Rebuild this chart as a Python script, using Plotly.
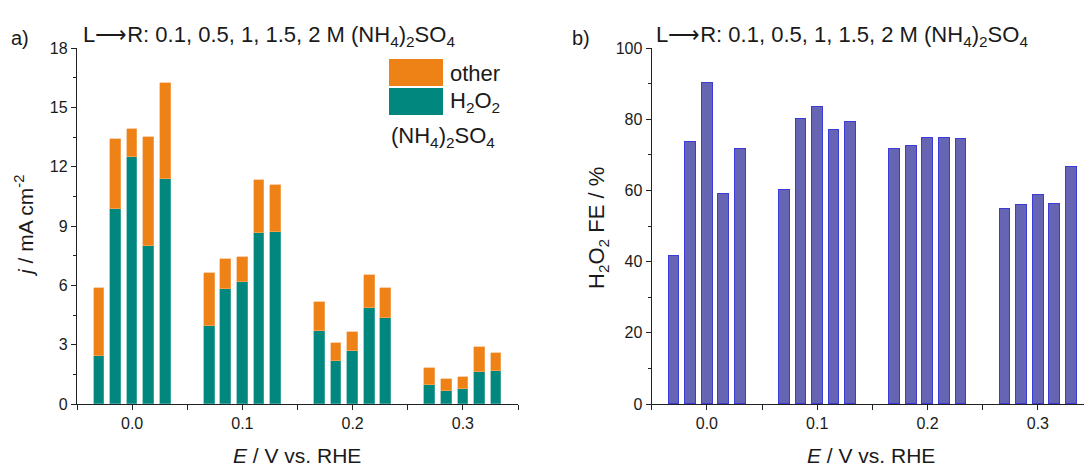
import plotly.graph_objects as go

# ---------------- data ----------------
potentials = [0.0, 0.1, 0.2, 0.3]          # E / V vs. RHE
concentrations = [0.1, 0.5, 1, 1.5, 2]     # M (NH4)2SO4, left -> right
# current density of H2O2 (teal) per potential group, per concentration
j_h2o2 = [
    [2.43, 9.84, 12.49, 7.97, 11.36],
    [3.96, 5.81, 6.15, 8.66, 8.71],
    [3.71, 2.19, 2.68, 4.85, 4.33],
    [0.98, 0.66, 0.76, 1.60, 1.67],
]
# total current density (top of stacked bar)
j_total = [
    [5.88, 13.40, 13.90, 13.50, 16.21],
    [6.62, 7.33, 7.41, 11.31, 11.07],
    [5.17, 3.07, 3.62, 6.54, 5.86],
    [1.84, 1.26, 1.38, 2.90, 2.58],
]
# H2O2 Faradaic efficiency / %
fe_h2o2 = [
    [41.7, 73.6, 90.2, 59.1, 71.5],
    [60.1, 80.1, 83.5, 77.0, 79.1],
    [71.7, 72.5, 74.8, 74.8, 74.5],
    [54.8, 56.0, 58.8, 56.1, 66.5],
]

# ---------------- style ----------------
ORANGE = "#EF8217"
TEAL = "#02877F"
PURPLE = "#6565B3"
PURPLE_EDGE = "#3B3BD8"
FONT = "Liberation Sans, Arial, sans-serif"
TXT = "#1a1a1a"
W, H = 1084, 468
SPACING = 0.015
BARW = 0.0097
BIG = 22

xs, h2o2_vals, other_vals, fe_vals = [], [], [], []
for gi, e in enumerate(potentials):
    for ci, c in enumerate(concentrations):
        xs.append(e + (ci - (len(concentrations) - 1) / 2) * SPACING)
        h2o2_vals.append(j_h2o2[gi][ci])
        other_vals.append(j_total[gi][ci] - j_h2o2[gi][ci])
        fe_vals.append(fe_h2o2[gi][ci])

fig = go.Figure()
fig.add_trace(go.Bar(x=xs, y=h2o2_vals, width=BARW, name="H<sub>2</sub>O<sub>2</sub>",
                     marker=dict(color=TEAL, line=dict(color="#5fb3ad", width=0.6)),
                     xaxis="x", yaxis="y", showlegend=False))
fig.add_trace(go.Bar(x=xs, y=other_vals, width=BARW, name="other",
                     marker=dict(color=ORANGE, line=dict(color="#f5b070", width=0.6)),
                     xaxis="x", yaxis="y", showlegend=False))
fig.add_trace(go.Bar(x=xs, y=fe_vals, width=BARW, name="FE",
                     marker=dict(color=PURPLE, line=dict(color=PURPLE_EDGE, width=1)),
                     xaxis="x2", yaxis="y2", showlegend=False))

def xax(domain, rng, anchor):
    return dict(domain=domain, range=rng, anchor=anchor, showgrid=False, zeroline=False,
                showline=True, linecolor="#222", linewidth=1.3,
                ticks="outside", ticklen=5, tickwidth=1.2, tickcolor="#222",
                tick0=0, dtick=0.1, tickformat=".1f",
                minor=dict(ticks="outside", ticklen=5, tickwidth=1.2, tickcolor="#222", dtick=0.05, tick0=0.05),
                tickfont=dict(family=FONT, size=16, color=TXT), automargin=False)

def yax(domain, rng, dtick, anchor):
    return dict(domain=domain, range=rng, anchor=anchor, showgrid=False, zeroline=False,
                showline=True, linecolor="#222", linewidth=1.3,
                ticks="outside", ticklen=5, tickwidth=1.2, tickcolor="#222",
                tick0=0, dtick=dtick,
                minor=dict(ticks="outside", ticklen=3, tickwidth=1.2, tickcolor="#222", dtick=dtick / 2),
                tickfont=dict(family=FONT, size=16, color=TXT), automargin=False)

ytop = 48
ybot = 404
ydom = [1 - ybot / H, 1 - ytop / H]

fig.update_layout(
    width=W, height=H, autosize=False,
    margin=dict(l=0, r=0, t=0, b=0, pad=0, autoexpand=False),
    paper_bgcolor="white", plot_bgcolor="white",
    barmode="stack", bargap=0,
    font=dict(family=FONT, color=TXT),
    xaxis=xax([77 / W, 518 / W], [-0.05, 0.35], "y"),
    yaxis=yax(ydom, [0, 18], 3, "x"),
    xaxis2=xax([651.7 / W, 1.0], [-0.05, 0.3418], "y2"),
    yaxis2=yax(ydom, [0, 100], 20, "x2"),
)

def px_x(px):
    return px / W

def px_y(py):
    return 1 - py / H

ann = []
def add_text(text, x, y, size=BIG, xanchor="left", yanchor="middle", angle=0):
    ann.append(dict(text=text, x=px_x(x), y=px_y(y), xref="paper", yref="paper",
                    xanchor=xanchor, yanchor=yanchor, showarrow=False, textangle=angle,
                    font=dict(family=FONT, size=size, color=TXT)))

header = "L⟶R: 0.1, 0.5, 1, 1.5, 2 M (NH<sub>4</sub>)<sub>2</sub>SO<sub>4</sub>"
add_text("a)", 9, 38, size=20)
add_text(header, 81, 36)
add_text("b)", 570, 38, size=20)
add_text(header, 654, 36)
add_text("<i>E</i> / V vs. RHE", 297, 455, xanchor="center", size=21)
add_text("<i>E</i> / V vs. RHE", 871, 455, xanchor="center", size=21)
add_text("<i>j</i> / mA cm<sup>-2</sup>", 24, 226, xanchor="center", angle=-90, size=21)
add_text("H<sub>2</sub>O<sub>2</sub> FE / %", 598, 228, xanchor="center", angle=-90, size=22)
# legend
add_text("other", 448, 73)
add_text("H<sub>2</sub>O<sub>2</sub>", 448, 102)
add_text("(NH<sub>4</sub>)<sub>2</sub>SO<sub>4</sub>", 389, 137)
fig.update_layout(annotations=ann)

shapes = [
    dict(type="rect", xref="paper", yref="paper", x0=px_x(389), x1=px_x(443),
         y0=px_y(86), y1=px_y(59), fillcolor=ORANGE, line=dict(width=0)),
    dict(type="rect", xref="paper", yref="paper", x0=px_x(389), x1=px_x(443),
         y0=px_y(115), y1=px_y(88), fillcolor=TEAL, line=dict(width=0)),
]
fig.update_layout(shapes=shapes)

fig.write_html("out.html")
